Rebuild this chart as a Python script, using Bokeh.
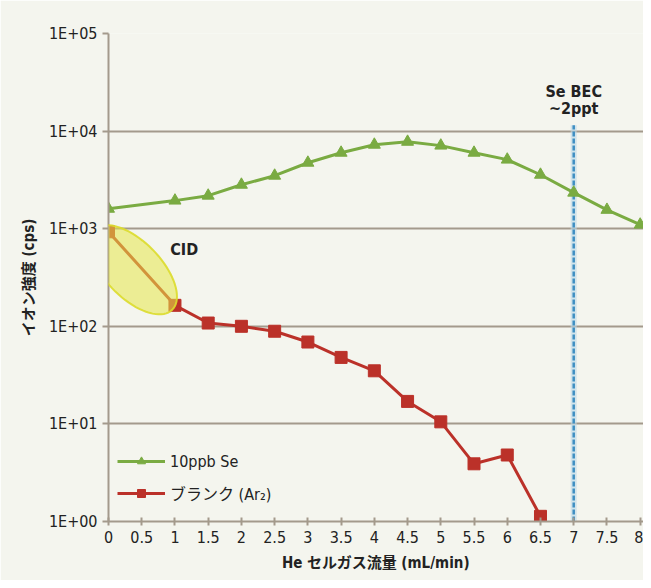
import numpy as np
from bokeh.plotting import figure
from bokeh.models import Range1d, FixedTicker, Legend, LegendItem, Label, PolyAnnotation
from bokeh.embed import file_html
from bokeh.resources import INLINE

# ---- data ----
se_flow = [0, 1, 1.5, 2, 2.5, 3, 3.5, 4, 4.5, 5, 5.5, 6, 6.5, 7, 7.5, 8]
se_cps = [1600, 1940, 2180, 2820, 3490, 4740, 6000, 7250, 7770, 7100, 6000, 5100, 3570, 2340, 1560, 1100]
blank_flow = [0, 1, 1.5, 2, 2.5, 3, 3.5, 4, 4.5, 5, 5.5, 6, 6.5]
blank_cps = [930, 164, 108, 100, 89, 69, 48, 35, 17, 10.5, 3.9, 4.8, 1.13]
x_ticks = [0, 0.5, 1, 1.5, 2, 2.5, 3, 3.5, 4, 4.5, 5, 5.5, 6, 6.5, 7, 7.5, 8]
y_ticks = [1, 10, 100, 1000, 10000, 100000]
y_tick_labels = ["1E+00", "1E+01", "1E+02", "1E+03", "1E+04", "1E+05"]
bec_flow = 7
bec_top = 11500
cid_center = (0.37, 380)
cid_label = (0.93, 610)
series_names = ["10ppb Se", "ブランク (Ar₂)"]

FONT = "'Liberation Sans Narrow', 'DejaVu Sans Condensed', 'Noto Sans CJK JP', sans-serif"
BG = "#f4f5ee"
GRID = "#a39a8c"
GREEN = "#7aab42"
RED = "#bb3129"

X0, X1 = 0, 8.05
Y0, Y1 = 1, 100000
W, H = 643, 580
ML, MR, MT, MB = 108, 0, 33, 59

p = figure(width=W, height=H, output_backend="svg", toolbar_location=None,
           y_axis_type="log", x_range=Range1d(X0, X1), y_range=Range1d(Y0, Y1),
           background_fill_color=BG, border_fill_color=BG,
           min_border_left=ML, min_border_right=MR, min_border_top=MT, min_border_bottom=MB)
p.outline_line_color = None

# axes
p.xaxis.ticker = FixedTicker(ticks=x_ticks)
p.yaxis.ticker = FixedTicker(ticks=y_ticks, minor_ticks=[])
p.yaxis.major_label_overrides = {t: l for t, l in zip(y_ticks, y_tick_labels)}
for ax in (p.xaxis, p.yaxis):
    ax.axis_line_color = GRID
    ax.axis_line_width = 2
    ax.major_tick_line_color = GRID
    ax.major_tick_line_width = 2
    ax.minor_tick_line_color = None
    ax.major_label_text_font = FONT
    ax.major_label_text_font_size = "16px"
    ax.major_label_text_color = "#222222"
    ax.axis_label_text_font = FONT
    ax.axis_label_text_font_style = "bold"
    ax.axis_label_text_color = "#222222"
p.xaxis.major_tick_in = 4
p.xaxis.major_tick_out = 4
p.yaxis.major_tick_in = 0
p.yaxis.major_tick_out = 6
p.xaxis.axis_label = "He セルガス流量 (mL/min)"
p.yaxis.axis_label = "イオン強度 (cps)"
p.xaxis.axis_label_text_font_size = "15px"
p.yaxis.axis_label_text_font_size = "15px"
p.xaxis.axis_label_standoff = 8
p.yaxis.axis_label_standoff = 8

p.xgrid.grid_line_color = None
p.ygrid.grid_line_color = GRID
p.ygrid.grid_line_width = 2

# BEC dashed line
p.segment(x0=[bec_flow], y0=[1], x1=[bec_flow], y1=[bec_top],
          line_color="#b9d9ea", line_width=6, line_alpha=0.6)
p.segment(x0=[bec_flow], y0=[1], x1=[bec_flow], y1=[bec_top],
          line_color="#3f8fc2", line_width=2.5, line_dash="5 2")

# series
gl = p.line(se_flow, se_cps, line_color=GREEN, line_width=3)
gm = p.scatter(se_flow, se_cps, marker="triangle", size=12, fill_color=GREEN, line_color=GREEN)
rl = p.line(blank_flow, blank_cps, line_color=RED, line_width=3)
rm = p.scatter(blank_flow, blank_cps, marker="square", size=12, fill_color=RED, line_color=RED)

# CID ellipse (drawn over the blank line, may extend left of the axis)
px_per_x = (W - ML - MR) / (X1 - X0)
px_per_dec = (H - MT - MB) / (np.log10(Y1) - np.log10(Y0))
t = np.linspace(0, 2 * np.pi, 80)
a, b, ang = 56, 28, -0.8
ex = a * np.cos(t) * np.cos(ang) - b * np.sin(t) * np.sin(ang)
ey = a * np.cos(t) * np.sin(ang) + b * np.sin(t) * np.cos(ang)
xs = list(cid_center[0] + ex / px_per_x)
ys = list(cid_center[1] * 10 ** (ey / px_per_dec))
p.add_layout(PolyAnnotation(xs=xs, ys=ys, fill_color="#e6e64a", fill_alpha=0.55,
                            line_color="#dcdc2c", line_width=2, line_alpha=0.9))

# annotations
p.add_layout(Label(x=cid_label[0], y=cid_label[1], text="CID", text_font=FONT,
                   text_font_style="bold", text_font_size="16px", text_color="#222222",
                   text_baseline="middle"))
p.add_layout(Label(x=bec_flow, y=25700, text="Se BEC", text_font=FONT, text_align="center",
                   text_font_style="bold", text_font_size="16px", text_color="#222222",
                   text_baseline="middle"))
p.add_layout(Label(x=bec_flow, y=17200, text="~2ppt", text_font=FONT, text_align="center",
                   text_font_style="bold", text_font_size="16px", text_color="#222222",
                   text_baseline="middle"))

legend = Legend(items=[LegendItem(label=series_names[0], renderers=[gl, gm]),
                       LegendItem(label=series_names[1], renderers=[rl, rm])],
                location=(9, 16), background_fill_alpha=0, border_line_color=None,
                label_text_font=FONT, label_text_font_size="16px", label_text_color="#222222",
                glyph_width=48, glyph_height=20, label_height=20, spacing=10, padding=5)
p.add_layout(legend)

open("out.html", "w").write(file_html(p, INLINE))
